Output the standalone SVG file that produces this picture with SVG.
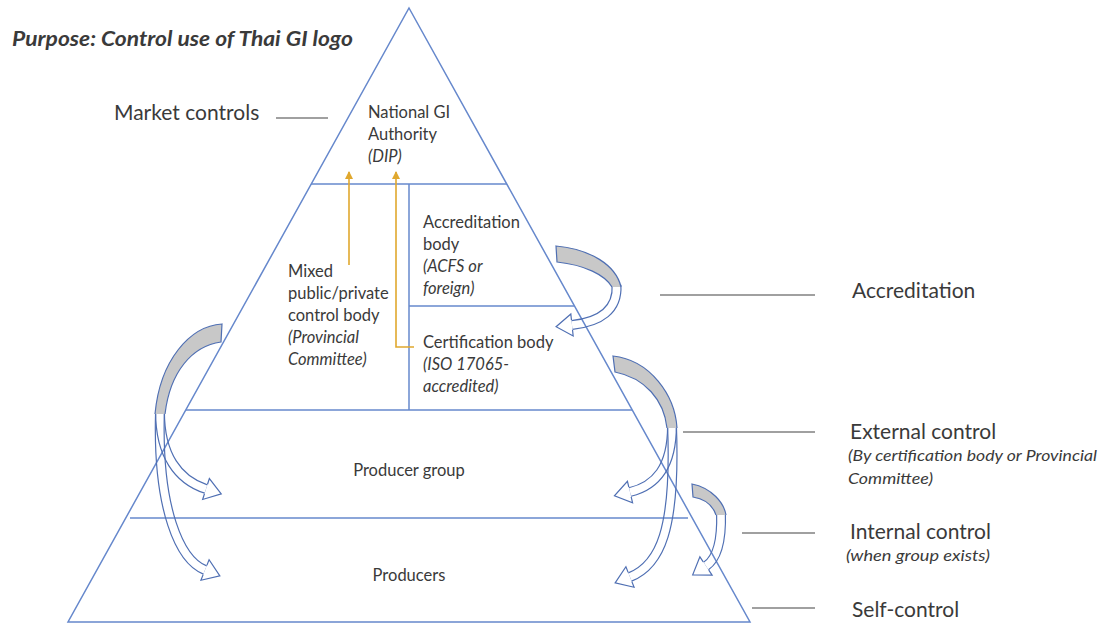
<svg xmlns="http://www.w3.org/2000/svg" width="1116" height="624" viewBox="0 0 1116 624">
<style>
text{font-family:Lato,"Liberation Sans",sans-serif;fill:#3a3a3a}
.in{font-size:16.5px}
.it{font-style:italic}
.big{font-size:21px}
.sm{font-size:16px;font-style:italic}
.tri{fill:none;stroke:#6688cc;stroke-width:1.5}
.lab{stroke:#808080;stroke-width:1.6}
.bo{fill:none;stroke:#4f6fb3;stroke-width:10}
.mk{fill:none;stroke:#000000;stroke-width:7.6}
.gf{fill:#c8c8c8;stroke:none}
.gs{fill:none;stroke:#4f6fb3;stroke-width:1.2}
.or{fill:none;stroke:#e0a82e;stroke-width:1.6}
</style>
<defs>
<marker id="bh" markerUnits="userSpaceOnUse" viewBox="-2 -13 20 26" refX="0" refY="0" markerWidth="20" markerHeight="26" orient="auto">
<path d="M0,-5 L0,-11 L16,0 L0,11 L0,5" fill="none" stroke="#4f6fb3" stroke-width="1.2"/>
</marker>
<marker id="oh" markerUnits="userSpaceOnUse" viewBox="0 0 8 8" refX="7" refY="4" markerWidth="8" markerHeight="8" orient="auto">
<path d="M0,0 L8,4 L0,8 Z" fill="#e0a82e"/>
</marker>
<mask id="m1" maskUnits="userSpaceOnUse" x="0" y="0" width="1116" height="624"><rect width="1116" height="624" fill="#fff"/><path class="mk" d="M160,412 C160,455 178,480 206,489"/></mask>
<mask id="m2" maskUnits="userSpaceOnUse" x="0" y="0" width="1116" height="624"><rect width="1116" height="624" fill="#fff"/><path class="mk" d="M160,412 C157,510 180,560 205,570"/></mask>
<mask id="m3" maskUnits="userSpaceOnUse" x="0" y="0" width="1116" height="624"><rect width="1116" height="624" fill="#fff"/><path class="mk" d="M672,426 C672,468 655,486 630,492"/></mask>
<mask id="m4" maskUnits="userSpaceOnUse" x="0" y="0" width="1116" height="624"><rect width="1116" height="624" fill="#fff"/><path class="mk" d="M672,426 C676,530 660,565 630,577"/></mask>
<mask id="m5" maskUnits="userSpaceOnUse" x="0" y="0" width="1116" height="624"><rect width="1116" height="624" fill="#fff"/><path class="mk" d="M721,513 C722,545 715,560 706,566"/></mask>
<mask id="m6" maskUnits="userSpaceOnUse" x="0" y="0" width="1116" height="624"><rect width="1116" height="624" fill="#fff"/><path class="mk" d="M616.5,285 C618,310 600,322 572,325"/></mask>
</defs>
<rect width="1116" height="624" fill="#ffffff"/>
<g id="pyramid">
<polygon class="tri" points="409,8 750,622 68,622"/>
<line class="tri" x1="311" y1="184" x2="507" y2="184"/>
<line class="tri" x1="409" y1="184" x2="409" y2="410"/>
<line class="tri" x1="409" y1="306" x2="574" y2="306"/>
<line class="tri" x1="186" y1="410" x2="632" y2="410"/>
<line class="tri" x1="130" y1="518" x2="688" y2="518"/>
</g>
<g id="title"><text x="12" y="46" textLength="341" lengthAdjust="spacingAndGlyphs" style="font-size:21px;font-weight:bold;font-style:italic">Purpose: Control use of Thai GI logo</text></g>
<g id="market"><text class="big" x="114" y="120">Market controls</text></g>
<g id="authority"><text class="in" x="368" y="118">National GI</text><text class="in" x="368" y="140">Authority</text><text class="in it" x="368" y="162">(DIP)</text></g>
<g id="accbody"><text class="in" x="423" y="228">Accreditation</text><text class="in" x="423" y="250">body</text><text class="in it" x="423" y="272">(ACFS or</text><text class="in it" x="423" y="294">foreign)</text></g>
<g id="mixed"><text class="in" x="288" y="277">Mixed</text><text class="in" x="288" y="299">public/private</text><text class="in" x="288" y="321">control body</text><text class="in it" x="288" y="343">(Provincial</text><text class="in it" x="288" y="365">Committee)</text></g>
<g id="certbody"><text class="in" x="423" y="348">Certification body</text><text class="in it" x="423" y="370">(ISO 17065-</text><text class="in it" x="423" y="392">accredited)</text></g>
<g id="group"><text class="in" x="409" y="476" text-anchor="middle">Producer group</text></g>
<g id="producers"><text class="in" x="409" y="581" text-anchor="middle">Producers</text></g>
<g id="lbl-acc"><text class="big" x="852" y="298">Accreditation</text></g>
<g id="lbl-ext"><text class="big" x="850" y="439">External control</text><text class="sm" x="848" y="461" textLength="249" lengthAdjust="spacingAndGlyphs">(By certification body or Provincial</text><text class="sm" x="848" y="484" textLength="85" lengthAdjust="spacingAndGlyphs">Committee)</text></g>
<g id="lbl-int"><text class="big" x="850" y="539">Internal control</text><text class="sm" x="846" y="561" textLength="144" lengthAdjust="spacingAndGlyphs">(when group exists)</text></g>
<g id="lbl-self"><text class="big" x="852" y="617">Self-control</text></g>
<g id="connectors">
<line class="lab" x1="276" y1="118" x2="328" y2="118"/>
<line class="lab" x1="660" y1="295" x2="815" y2="295"/>
<line class="lab" x1="683" y1="432" x2="815" y2="432"/>
<line class="lab" x1="742" y1="533" x2="815" y2="533"/>
<line class="lab" x1="752" y1="608" x2="815" y2="608"/>
<path class="or" d="M349,265 L349,172" marker-end="url(#oh)"/>
<path class="or" d="M414,347 L396,347 L396,172" marker-end="url(#oh)"/>
<!-- left curved arrows -->
<path class="bo" mask="url(#m1)" d="M160,412 C160,455 178,480 206,489"/>
<path class="bo" mask="url(#m2)" d="M160,412 C157,510 180,560 205,570"/>
<path d="M160,412 C160,455 178,480 206,489" fill="none" stroke="none" stroke-width="10" marker-end="url(#bh)"/>
<path d="M160,412 C157,510 180,560 205,570" fill="none" stroke="none" stroke-width="10" marker-end="url(#bh)"/>
<path class="gf" d="M222,324 C190,326 160,360 155,414 L165,414 C170,372 192,346 221,342 Z"/>
<path class="gs" d="M155,414 C160,360 190,326 222,324 L221,342 C192,346 170,372 165,414"/>
<!-- right curved arrows -->
<path class="bo" mask="url(#m3)" d="M672,426 C672,468 655,486 630,492"/>
<path class="bo" mask="url(#m4)" d="M672,426 C676,530 660,565 630,577"/>
<path d="M672,426 C672,468 655,486 630,492" fill="none" stroke="none" marker-end="url(#bh)"/>
<path d="M672,426 C676,530 660,565 630,577" fill="none" stroke="none" marker-end="url(#bh)"/>
<path class="gf" d="M613,356 C650,360 675,395 677,428 L667,428 C664,400 645,378 615,372 Z"/>
<path class="gs" d="M677,428 C675,395 650,360 613,356 L615,372 C645,378 664,400 667,428"/>
<!-- small right arrow -->
<path class="bo" mask="url(#m5)" d="M721,513 C722,545 715,560 706,566"/>
<path d="M721,513 C722,545 715,560 706,566" fill="none" stroke="none" marker-end="url(#bh)"/>
<path class="gf" d="M692,484 C712,488 724,503 726,515 L716,515 C713,506 705,499 693,497 Z"/>
<path class="gs" d="M726,515 C724,503 712,488 692,484 L693,497 C705,499 713,506 716,515"/>
<!-- accreditation arrow -->
<path class="bo" mask="url(#m6)" d="M616.5,285 C618,310 600,322 572,325"/>
<path d="M616.5,285 C618,310 600,322 572,325" fill="none" stroke="none" marker-end="url(#bh)"/>
<path class="gf" d="M556,246 C590,249 616,265 621,287 L612,287 C605,275 585,265 557,262 Z"/>
<path class="gs" d="M621,287 C616,265 590,249 556,246 L557,262 C585,265 605,275 612,287"/>
</g>
</svg>
